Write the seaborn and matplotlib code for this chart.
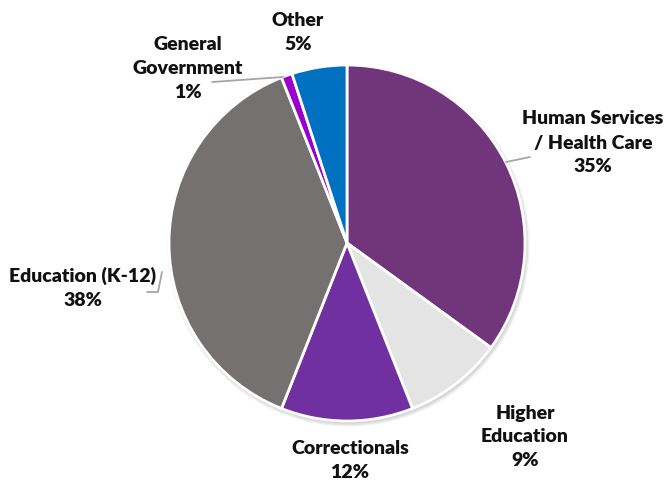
import matplotlib
matplotlib.use("Agg")
import matplotlib.pyplot as plt
from matplotlib.patches import Circle
import seaborn as sns

categories = ["Human Services\n/ Health Care", "Higher\nEducation", "Correctionals",
              "Education (K-12)", "General\nGovernment", "Other"]
shares = [35, 9, 12, 38, 1, 5]
colors = ["#70357A", "#E4E4E4", "#7030A0", "#767171", "#9900CC", "#0070C0"]

sns.set_theme(style="white")
plt.rcParams["font.family"] = ["Lato", "DejaVu Sans"]

W, H = 668, 483
fig = plt.figure(figsize=(W / 100, H / 100), dpi=100)
ax = fig.add_axes([0, 0, 1, 1])
ax.set_xlim(0, W)
ax.set_ylim(0, H)
ax.axis("off")

cx, cy, r = 347, H - 243, 178

# soft drop shadow behind the pie
for i, a in enumerate([0.06, 0.06, 0.06]):
    ax.add_patch(Circle((cx + 1.5, cy - 2.5), r + 3 - i * 1.5, color="black",
                        alpha=a, lw=0, zorder=0))

ax.pie(shares, colors=colors, center=(cx, cy), radius=r, startangle=90,
       counterclock=False, frame=True,
       wedgeprops=dict(edgecolor="white", linewidth=2, zorder=1))
ax.set_xlim(0, W)
ax.set_ylim(0, H)
ax.set_aspect("equal")
ax.axis("off")

# label positions (pixel space, y from top)
label_pos = [(593, 143), (525, 437), (350, 461), (83, 288), (188, 68), (298, 32)]
for cat, val, (lx, ly) in zip(categories, shares, label_pos):
    ax.text(lx, H - ly, f"{cat}\n{val}%", ha="center", va="center",
            fontsize=14, fontweight="heavy", color="#111111", linespacing=1.5,
            zorder=3)

# leader lines
lc = "#A6A6A6"
ax.plot([506, 530], [H - 162, H - 157], color=lc, lw=1.3, zorder=2)
ax.plot([212, 283], [H - 82, H - 77], color=lc, lw=1.3, zorder=2)
ax.plot([147, 158, 162], [H - 292, H - 292, H - 272], color=lc, lw=1.3, zorder=2)

fig.savefig("out.png", dpi=100)
